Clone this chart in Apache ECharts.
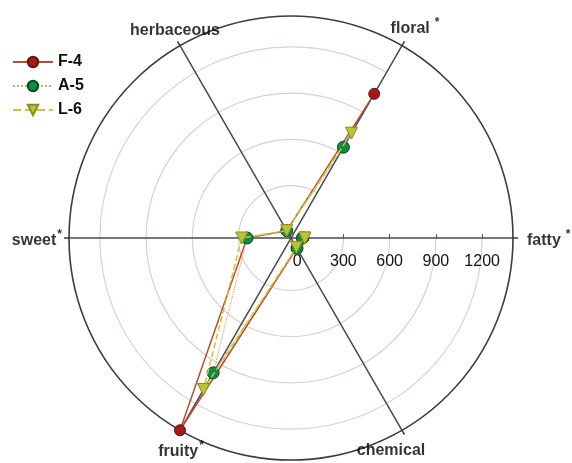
<!DOCTYPE html>
<html><head><meta charset="utf-8">
<script src="https://cdn.jsdelivr.net/npm/echarts@6/dist/echarts.min.js"></script>
<style>html,body{margin:0;padding:0;background:#fff}#c{width:572px;height:463px}</style>
</head><body><div id="c"></div>
<script>
// categories in clockwise order starting at 0° (right)
const categories = ['fatty', 'chemical', 'fruity', 'sweet', 'herbaceous', 'floral'];
const categoryStar = [true, false, true, true, false, true];
const seriesNames = ['F-4', 'A-5', 'L-6'];
const f4Values = [40, 35, 1400, 245, 15, 1040];
const a5Values = [35, 38, 970, 245, 15, 640];
const l6Values = [50, 30, 1095, 280, 15, 745];
const radialTicks = [0, 300, 600, 900, 1200];
const radialMin = -40;
const radialMax = 1400;

function closed(vals) {
  const d = vals.map((v, i) => [v, categories[i]]);
  d.push([vals[0], categories[0]]);
  return d;
}

const FONT = 'Liberation Sans, Arial, sans-serif';
const labelCfg = {
  fatty: { position: 'right', distance: 14, offset: [0, 3], star: 's2' },
  chemical: { position: 'bottom', distance: 12, offset: [-11, 0] },
  fruity: { position: 'bottom', distance: 9, offset: [1, 0], star: 's' },
  sweet: { position: 'left', distance: 7, offset: [0, 3], star: 's' },
  herbaceous: { position: 'top', distance: 7, offset: [-5, 0] },
  floral: { position: 'top', distance: 5, offset: [13, 0], star: 's2' }
};

const labelData = categories.map((c, i) => {
  const cfg = labelCfg[c];
  const txt = '{n|' + c + '}' + (categoryStar[i] ? '{' + cfg.star + '|*}' : '');
  return {
    value: [radialMax, c],
    label: { position: cfg.position, distance: cfg.distance, offset: cfg.offset, formatter: txt }
  };
});

const styles = {
  'F-4': { line: { color: '#b4502e', width: 1.5, type: 'solid' }, item: { color: '#9e1c1c', borderColor: '#6a1010', borderWidth: 1 }, symbol: 'circle', size: 11, rot: 0 },
  'A-5': { line: { color: '#e6a26a', width: 1.2, type: 'dotted' }, item: { color: '#138a43', borderColor: '#0b4d22', borderWidth: 1 }, symbol: 'circle', size: 12, rot: 0 },
  'L-6': { line: { color: '#c9c640', width: 1.5, type: 'dashed' }, item: { color: '#b9c23a', borderColor: '#8a9020', borderWidth: 1 }, symbol: 'triangle', size: 12, rot: 180 }
};
const allValues = [f4Values, a5Values, l6Values];

const chart = echarts.init(document.getElementById('c'), null, { renderer: 'canvas' });
chart.setOption({
  animation: false,
  backgroundColor: '#fff',
  legend: {
    data: seriesNames,
    orient: 'vertical',
    left: 7,
    top: 49,
    itemWidth: 40,
    itemHeight: 13,
    itemGap: 8,
    textStyle: { fontSize: 16, fontWeight: 'bold', color: '#111', fontFamily: FONT }
  },
  polar: [
    { center: [291, 238], radius: 222 },
    { center: [291, 238], radius: 222 }
  ],
  angleAxis: [{
    polarIndex: 0,
    type: 'category',
    data: categories,
    startAngle: 0,
    clockwise: true,
    boundaryGap: false,
    axisLine: { show: false },
    axisTick: { show: true, length: 5, lineStyle: { color: '#3c3c3c', width: 1.5 } },
    axisLabel: { show: false },
    splitLine: { show: true, lineStyle: { color: '#4a4a4a', width: 1.5 } }
  }, {
    polarIndex: 1,
    type: 'value',
    min: 0,
    max: 360,
    axisLine: { show: true, lineStyle: { color: '#3c3c3c', width: 1.6 } },
    axisTick: { show: false },
    axisLabel: { show: false },
    splitLine: { show: false }
  }],
  radiusAxis: [{
    polarIndex: 0,
    type: 'value',
    min: radialMin,
    max: radialMax,
    axisLine: { show: false },
    axisTick: { show: true, length: 4, customValues: radialTicks.slice(1), lineStyle: { color: '#555', width: 1 } },
    axisLabel: {
      show: true, customValues: radialTicks, fontSize: 16, color: '#111', fontFamily: FONT,
      verticalAlign: 'top', margin: -16, formatter: v => String(v)
    },
    splitLine: { show: true, lineStyle: { color: '#d8d2d0', width: 1.2 } }
  }, {
    polarIndex: 1,
    type: 'value',
    min: 0,
    max: 1,
    axisLine: { show: false },
    axisTick: { show: false },
    axisLabel: { show: false },
    splitLine: { show: false }
  }],
  series: seriesNames.map((n, k) => ({
    name: n,
    type: 'line',
    coordinateSystem: 'polar',
    polarIndex: 0,
    data: closed(allValues[k]),
    symbol: styles[n].symbol,
    symbolSize: styles[n].size,
    symbolRotate: styles[n].rot,
    lineStyle: styles[n].line,
    itemStyle: styles[n].item,
    z: 3 + k
  })).concat([{
    type: 'scatter',
    coordinateSystem: 'polar',
    polarIndex: 0,
    silent: true,
    symbolSize: 0,
    data: labelData,
    z: 1,
    label: {
      show: true,
      color: '#000',
      fontFamily: FONT,
      rich: {
        n: { fontSize: 16, fontWeight: 'bold', color: '#000', fontFamily: FONT },
        s: { fontSize: 12, fontWeight: 'bold', color: '#000', padding: [0, 0, 12, 1] },
        s2: { fontSize: 12, fontWeight: 'bold', color: '#000', padding: [0, 0, 12, 5] }
      }
    }
  }])
});
</script></body></html>
